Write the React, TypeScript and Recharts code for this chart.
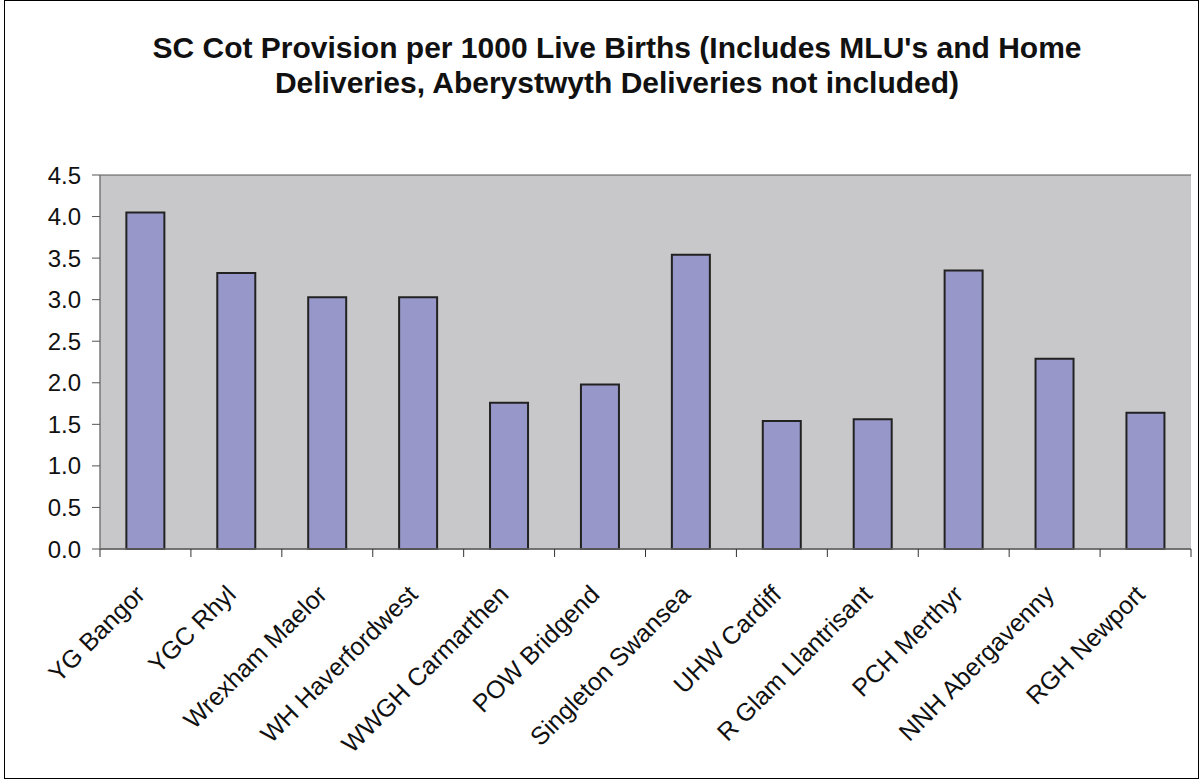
import React from 'react';
import { BarChart, Bar, XAxis, YAxis, CartesianGrid } from 'recharts';

const hospitals = [
  'YG Bangor',
  'YGC Rhyl',
  'Wrexham Maelor',
  'WH Haverfordwest',
  'WWGH Carmarthen',
  'POW Bridgend',
  'Singleton Swansea',
  'UHW Cardiff',
  'R Glam Llantrisant',
  'PCH Merthyr',
  'NNH Abergavenny',
  'RGH Newport',
];
const cotsPer1000 = [4.05, 3.32, 3.03, 3.03, 1.76, 1.98, 3.54, 1.54, 1.56, 3.35, 2.29, 1.64];
const yTicks = [0, 0.5, 1, 1.5, 2, 2.5, 3, 3.5, 4, 4.5];

const data = hospitals.map((name, i) => ({ name, value: cotsPer1000[i] }));

const W = 1202;
const H = 782;
const PLOT_LEFT = 100;
const PLOT_RIGHT = 1191;
const BAND = (PLOT_RIGHT - PLOT_LEFT) / hospitals.length;
const FONT = 'Arial, "Liberation Sans", Helvetica, sans-serif';

function CatTick(props: any) {
  const { x, y, payload, index } = props;
  const ax = x + 1;
  const ay = y + 47;
  return (
    <g>
      <line x1={x - BAND / 2} x2={x - BAND / 2} y1={y} y2={y + 8} stroke="#333" strokeWidth={1} />
      {index === hospitals.length - 1 && (
        <line x1={x + BAND / 2} x2={x + BAND / 2} y1={y} y2={y + 8} stroke="#333" strokeWidth={1} />
      )}
      <text
        x={ax}
        y={ay}
        textAnchor="end"
        transform={`rotate(-45, ${ax}, ${ay})`}
        fontSize={25}
        fontFamily={FONT}
        fill="#111"
      >
        {payload.value}
      </text>
    </g>
  );
}

export default function App() {
  return (
    <div style={{ position: 'relative', width: W, height: H, background: '#fff' }}>
      <style>{`body{margin:0}`}</style>
      <div
        style={{
          position: 'absolute',
          left: 4,
          top: 0,
          width: 1195,
          height: 779,
          border: '1px solid #000',
          boxSizing: 'border-box',
        }}
      />
      <div
        style={{
          position: 'absolute',
          left: 0,
          top: 30,
          width: 1234,
          textAlign: 'center',
          fontFamily: FONT,
          fontWeight: 'bold',
          fontSize: 30,
          lineHeight: '35px',
          color: '#111',
        }}
      >
        SC Cot Provision per 1000 Live Births (Includes MLU's and Home
        <br />
        Deliveries, Aberystwyth Deliveries not included)
      </div>
      <div style={{ position: 'absolute', left: 0, top: 0 }}>
        <BarChart
          width={W}
          height={H}
          data={data}
          margin={{ top: 175, right: W - PLOT_RIGHT, bottom: 0, left: 0 }}
          barCategoryGap="29%"
        >
          <CartesianGrid
            horizontal
            vertical={false}
            fill="#C8C8CA"
            fillOpacity={1}
            stroke="#555"
            strokeWidth={1}
          />
          <XAxis
            dataKey="name"
            interval={0}
            height={233}
            tickLine={false}
            tickSize={0}
            tickMargin={0}
            axisLine={{ stroke: '#666', strokeWidth: 1.5 }}
            tick={<CatTick />}
          />
          <YAxis
            yAxisId="left"
            width={PLOT_LEFT}
            domain={[0, 4.5]}
            ticks={yTicks}
            interval={0}
            tickFormatter={(v: number) => v.toFixed(1)}
            tickSize={8}
            tickMargin={11}
            axisLine={{ stroke: '#777', strokeWidth: 1.5 }}
            tickLine={{ stroke: '#555' }}
            tick={{ fontSize: 24, fontFamily: FONT, fill: '#111' }}
          />
          <YAxis
            yAxisId="right"
            orientation="right"
            width={0}
            domain={[0, 4.5]}
            tick={false}
            tickLine={false}
            axisLine={{ stroke: '#999', strokeWidth: 2 }}
          />
          <Bar
            yAxisId="left"
            dataKey="value"
            fill="#9797C9"
            stroke="#222"
            strokeWidth={2}
            isAnimationActive={false}
          />
        </BarChart>
      </div>
    </div>
  );
}
